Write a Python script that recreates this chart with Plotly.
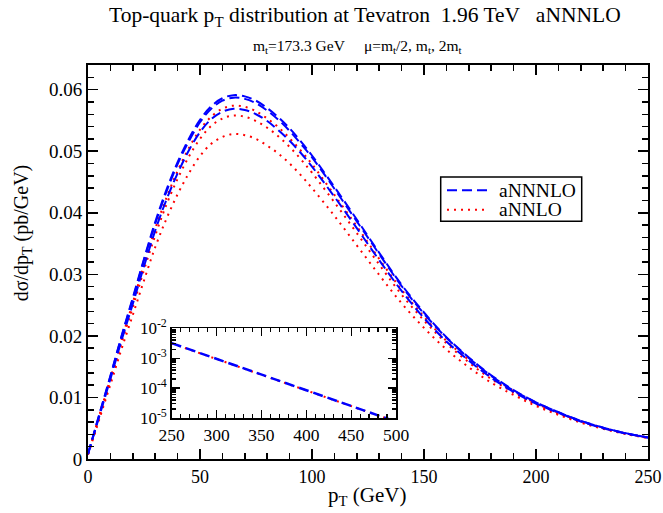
import plotly.graph_objects as go

# ---------------- data ----------------
pt = [0, 5, 10, 15, 20, 25, 30, 35, 40, 45, 50, 55, 60, 65, 70, 75, 80, 85, 90, 95,
      100, 110, 120, 130, 140, 150, 160, 170, 180, 190, 200, 210, 220, 230, 240, 250]

# aNNNLO (three scale choices)
nnnlo_a = [0.0008, 0.0072, 0.0135, 0.0200, 0.0262, 0.0325, 0.0385, 0.0437, 0.0482, 0.0520,
           0.0551, 0.0573, 0.0586, 0.0591, 0.0589, 0.0582, 0.0570, 0.0555, 0.0537, 0.0516,
           0.0493, 0.0442, 0.0389, 0.0335, 0.0283, 0.0238, 0.0198, 0.0165, 0.0136, 0.0112,
           0.0092, 0.0076, 0.0062, 0.0051, 0.0042, 0.0035]
nnnlo_b = [0.0008, 0.0071, 0.0134, 0.0199, 0.0260, 0.0323, 0.0382, 0.0434, 0.0479, 0.0516,
           0.0547, 0.0569, 0.0582, 0.0587, 0.0585, 0.0578, 0.0566, 0.0551, 0.0533, 0.0512,
           0.0490, 0.0439, 0.0386, 0.0333, 0.0281, 0.0236, 0.0197, 0.0164, 0.0135, 0.0111,
           0.0092, 0.0076, 0.0062, 0.0051, 0.0042, 0.0035]
nnnlo_c = [0.0008, 0.0069, 0.0130, 0.0193, 0.0252, 0.0313, 0.0371, 0.0421, 0.0464, 0.0501,
           0.0531, 0.0552, 0.0564, 0.0569, 0.0567, 0.0560, 0.0549, 0.0534, 0.0517, 0.0497,
           0.0475, 0.0426, 0.0375, 0.0323, 0.0273, 0.0229, 0.0191, 0.0160, 0.0132, 0.0109,
           0.0090, 0.0075, 0.0061, 0.0050, 0.00415, 0.00347]

# aNNLO (three scale choices)
nnlo_a = [0.0008, 0.0070, 0.0131, 0.0194, 0.0254, 0.0316, 0.0374, 0.0424, 0.0468, 0.0505,
          0.0535, 0.0556, 0.0569, 0.0574, 0.0572, 0.0565, 0.0553, 0.0539, 0.0521, 0.0501,
          0.0479, 0.0429, 0.0378, 0.0325, 0.0275, 0.0231, 0.0192, 0.0161, 0.0133, 0.0110,
          0.00904, 0.00749, 0.00612, 0.00504, 0.00416, 0.00347]
nnlo_b = [0.0008, 0.0068, 0.0127, 0.0189, 0.0247, 0.0307, 0.0363, 0.0413, 0.0455, 0.0491,
          0.0520, 0.0541, 0.0553, 0.0558, 0.0556, 0.0549, 0.0538, 0.0524, 0.0507, 0.0487,
          0.0465, 0.0417, 0.0367, 0.0316, 0.0267, 0.0225, 0.0188, 0.0157, 0.0130, 0.0108,
          0.00889, 0.00738, 0.00605, 0.00499, 0.00413, 0.00345]
nnlo_c = [0.0007, 0.0064, 0.0121, 0.0179, 0.0234, 0.0290, 0.0344, 0.0390, 0.0430, 0.0464,
          0.0492, 0.0512, 0.0523, 0.0528, 0.0526, 0.0520, 0.0509, 0.0496, 0.0480, 0.0461,
          0.0440, 0.0395, 0.0347, 0.0299, 0.0253, 0.0213, 0.0178, 0.0149, 0.0124, 0.0104,
          0.00861, 0.00718, 0.00590, 0.00489, 0.00406, 0.00341]

# inset: high-pT tail
pt_tail = [250, 300, 350, 400, 450, 500]
tail_nnnlo = [3.16e-3, 9.55e-4, 2.88e-4, 8.71e-5, 2.63e-5, 7.59e-6]
tail_nnlo = [3.12e-3, 9.40e-4, 2.84e-4, 8.60e-5, 2.60e-5, 7.50e-6]

x_ticks = [0, 50, 100, 150, 200, 250]
y_ticks = [0, 0.01, 0.02, 0.03, 0.04, 0.05, 0.06]
inset_x_ticks = [250, 300, 350, 400, 450, 500]
inset_y_ticks = [1e-5, 1e-4, 1e-3, 1e-2]
inset_y_text = ["10<sup>-5</sup>", "10<sup>-4</sup>", "10<sup>-3</sup>", "10<sup>-2</sup>"]

legend_names = ["aNNNLO", "aNNLO"]

# ---------------- figure ----------------
FONT = "Liberation Serif"
BLUE = "#0000ff"
RED = "#ff0000"
DASH = "10px,5px"
DOT = "2px,5px"

W, H = 663, 513
L, R, T, B = 88, 15, 64.5, 54
PW, PH = W - L - R, H - T - B


def px(xp):
    return (xp - L) / PW


def py(yp):
    return (H - B - yp) / PH


fig = go.Figure()

for vals in [nnlo_a, nnlo_b, nnlo_c]:
    fig.add_trace(go.Scatter(x=pt, y=vals, mode="lines", name="aNNLO",
                             line=dict(color=RED, width=2, dash=DOT, shape="spline"),
                             showlegend=False, hoverinfo="skip"))
for vals in [nnnlo_a, nnnlo_b, nnnlo_c]:
    fig.add_trace(go.Scatter(x=pt, y=vals, mode="lines", name="aNNNLO",
                             line=dict(color=BLUE, width=2, dash=DASH, shape="spline"),
                             showlegend=False, hoverinfo="skip"))

fig.add_trace(go.Scatter(x=pt_tail, y=tail_nnlo, mode="lines", xaxis="x2", yaxis="y2",
                         line=dict(color=RED, width=2, dash=DOT), showlegend=False,
                         hoverinfo="skip"))
fig.add_trace(go.Scatter(x=pt_tail, y=tail_nnnlo, mode="lines", xaxis="x2", yaxis="y2",
                         line=dict(color=BLUE, width=2.5, dash=DASH), showlegend=False,
                         hoverinfo="skip"))

axis_common = dict(showline=True, linecolor="black", linewidth=2, mirror="ticks",
                   ticks="inside", tickcolor="black", tickwidth=1.5, showgrid=False,
                   zeroline=False, automargin=False)

# manual legend (box, line samples, labels)
shapes = [
    dict(type="rect", xref="paper", yref="paper", x0=px(440.7), x1=px(581.7),
         y0=py(221), y1=py(176.7), line=dict(color="black", width=1.5),
         fillcolor="white", layer="above"),
    dict(type="line", xref="paper", yref="paper", x0=px(447), x1=px(487),
         y0=py(190), y1=py(190), line=dict(color=BLUE, width=2, dash=DASH), layer="above"),
    dict(type="line", xref="paper", yref="paper", x0=px(447), x1=px(487),
         y0=py(209.5), y1=py(209.5), line=dict(color=RED, width=2, dash=DOT), layer="above"),
]

annotations = [
    dict(text="Top-quark p<sub>T</sub> distribution at Tevatron  1.96 TeV   aNNNLO",
         xref="paper", yref="paper", x=px(365), y=py(16), xanchor="center",
         yanchor="middle", showarrow=False, font=dict(family=FONT, size=21.5)),
    dict(text="m<sub>t</sub>=173.3 GeV     μ=m<sub>t</sub>/2, m<sub>t</sub>, 2m<sub>t</sub>",
         xref="paper", yref="paper", x=px(357.5), y=py(46), xanchor="center",
         yanchor="middle", showarrow=False, font=dict(family=FONT, size=15.5)),
    dict(text="p<sub>T</sub> (GeV)", xref="paper", yref="paper", x=px(367), y=py(496),
         xanchor="center", yanchor="middle", showarrow=False,
         font=dict(family=FONT, size=21)),
    dict(text="dσ/dp<sub>T</sub> (pb/GeV)", xref="paper", yref="paper", x=px(22), y=py(233),
         xanchor="center", yanchor="middle", showarrow=False, textangle=-90,
         font=dict(family=FONT, size=20)),
    dict(text=legend_names[0], xref="paper", yref="paper", x=px(497), y=py(190),
         xanchor="left", yanchor="middle", showarrow=False,
         font=dict(family=FONT, size=19.5)),
    dict(text=legend_names[1], xref="paper", yref="paper", x=px(497), y=py(209.5),
         xanchor="left", yanchor="middle", showarrow=False,
         font=dict(family=FONT, size=19.5)),
]

fig.update_layout(
    width=W, height=H,
    margin=dict(l=L, r=R, t=T, b=B),
    paper_bgcolor="white", plot_bgcolor="white",
    font=dict(family=FONT, color="black", size=17),
    showlegend=False,
    xaxis=dict(**axis_common, range=[0, 250], tickvals=x_ticks, ticklen=10,
               minor=dict(dtick=10, ticks="inside", ticklen=6, tickcolor="black", tickwidth=1.5),
               tickfont=dict(family=FONT, size=18)),
    yaxis=dict(**axis_common, range=[0, 0.064], tickvals=y_ticks, ticklen=10,
               minor=dict(dtick=0.002, ticks="inside", ticklen=6, tickcolor="black", tickwidth=1.5),
               tickfont=dict(family=FONT, size=19)),
    xaxis2=dict(showline=True, linecolor="black", linewidth=1.5, mirror="ticks",
                ticks="inside", tickcolor="black", tickwidth=1.2, showgrid=False, zeroline=False,
                automargin=False,
                domain=[px(171.7), px(396)], anchor="y2", range=[250, 500], tickvals=inset_x_ticks,
                ticklen=8, minor=dict(dtick=10, ticks="inside", ticklen=4, tickcolor="black"),
                tickfont=dict(family=FONT, size=17.5)),
    yaxis2=dict(showline=True, linecolor="black", linewidth=1.5, mirror="ticks",
                ticks="inside", tickcolor="black", tickwidth=1.2, showgrid=False, zeroline=False,
                automargin=False,
                domain=[py(418), py(328)], anchor="x2", type="log", range=[-5, -2],
                tickvals=inset_y_ticks, ticktext=inset_y_text, ticklen=8,
                minor=dict(dtick="D1", ticks="inside", ticklen=4, tickcolor="black"),
                tickfont=dict(family=FONT, size=17)),
    shapes=shapes,
    annotations=annotations,
)

fig.write_html(
    "out.html",
    config={"displayModeBar": False, "staticPlot": True},
    post_script="var s=document.createElement('style');"
                "s.textContent='html,body{margin:0;padding:0;}';"
                "document.head.appendChild(s);",
)
